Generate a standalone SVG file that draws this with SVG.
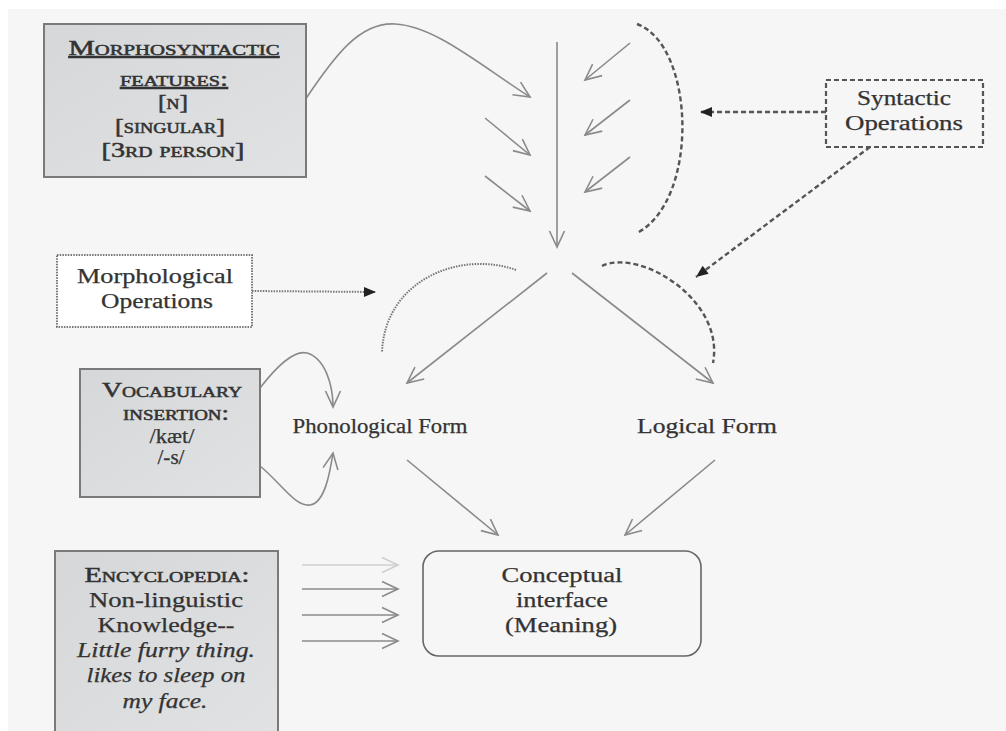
<svg xmlns="http://www.w3.org/2000/svg" width="1006" height="731" viewBox="0 0 1006 731">
<defs>
<style>
text{font-family:"Liberation Serif","DejaVu Serif",serif;fill:#333;text-anchor:middle;font-size:20px;stroke:#333;stroke-width:0.25}
.sc{font-variant:small-caps;font-size:20px;stroke-width:0.5}
.it{font-style:italic}
.ul{text-decoration:underline}
.box{fill:url(#g);stroke:#7a7a7a;stroke-width:2}
.ln{fill:none;stroke:#8a8a8a;stroke-width:1.6}
.dash{fill:none;stroke:#555;stroke-width:2.4;stroke-dasharray:5 3}
.dot{fill:none;stroke:#777;stroke-width:2;stroke-dasharray:1.5 1.2}
</style>
<linearGradient id="g" x1="0" y1="0" x2="1" y2="1">
<stop offset="0" stop-color="#d6d7d9"/>
<stop offset="1" stop-color="#e1e2e4"/>
</linearGradient>
<marker id="open" markerUnits="userSpaceOnUse" markerWidth="22" markerHeight="22" viewBox="0 0 22 22" refX="19" refY="11" orient="auto">
<path d="M3,3.5 L19,11 L3,18.5" fill="none" stroke="#8a8a8a" stroke-width="1.6"/>
</marker>
<marker id="openl" markerUnits="userSpaceOnUse" markerWidth="22" markerHeight="22" viewBox="0 0 22 22" refX="19" refY="11" orient="auto">
<path d="M3,3.5 L19,11 L3,18.5" fill="none" stroke="#cfcfcf" stroke-width="1.6"/>
</marker>
<marker id="fill" markerUnits="userSpaceOnUse" markerWidth="16" markerHeight="16" viewBox="0 0 16 16" refX="14" refY="8" orient="auto">
<path d="M2,3 L14,8 L2,13 Z" fill="#222"/>
</marker>
</defs>
<rect x="0" y="0" width="1006" height="731" fill="#ffffff"/>
<rect x="8" y="9" width="998" height="722" fill="#f6f6f6"/>

<g id="connectors">
<path class="ln" d="M305,100 C335,55 360,22 395,24 C435,26 480,65 530,97" marker-end="url(#open)"/>
<line class="ln" x1="557" y1="42" x2="557" y2="247" marker-end="url(#open)"/>
<line class="ln" x1="485" y1="118" x2="530" y2="155" marker-end="url(#open)"/>
<line class="ln" x1="485" y1="176" x2="530" y2="211" marker-end="url(#open)"/>
<line class="ln" x1="630" y1="43" x2="585" y2="80" marker-end="url(#open)"/>
<line class="ln" x1="630" y1="100" x2="585" y2="135" marker-end="url(#open)"/>
<line class="ln" x1="630" y1="157" x2="585" y2="192" marker-end="url(#open)"/>
<path class="dash" d="M637,24 C695,45 700,200 637,233"/>
<line class="dash" x1="826" y1="112" x2="700" y2="112" marker-end="url(#fill)"/>
<line class="dash" x1="870" y1="147" x2="696" y2="277" marker-end="url(#fill)"/>
<line class="dot" x1="252" y1="291" x2="376" y2="292" marker-end="url(#fill)"/>
<path class="dot" d="M516,270 C460,250 385,280 382,352"/>
<path class="dash" d="M602,266 C640,248 725,300 713,363"/>
<line class="ln" x1="547" y1="273" x2="407" y2="383" marker-end="url(#open)"/>
<line class="ln" x1="572" y1="273" x2="713" y2="383" marker-end="url(#open)"/>
<path class="ln" d="M260,388 C280,362 295,350 307,353 C325,358 333,385 333,407" marker-end="url(#open)"/>
<path class="ln" d="M260,466 C280,482 295,507 310,505 C325,503 330,472 333,453" marker-end="url(#open)"/>
<line class="ln" x1="407" y1="460" x2="498" y2="535" marker-end="url(#open)"/>
<line class="ln" x1="715" y1="460" x2="625" y2="535" marker-end="url(#open)"/>
<line class="ln" style="stroke:#cfcfcf" x1="302" y1="565" x2="398" y2="565" marker-end="url(#openl)"/>
<line class="ln" x1="302" y1="589" x2="398" y2="589" marker-end="url(#open)"/>
<line class="ln" x1="302" y1="615" x2="398" y2="615" marker-end="url(#open)"/>
<line class="ln" x1="302" y1="641" x2="398" y2="641" marker-end="url(#open)"/>
</g>

<g id="morphosyntactic">
<rect class="box" x="44" y="24" width="262" height="153"/>
<text class="sc ul" x="174" y="55" textLength="211" lengthAdjust="spacingAndGlyphs">Morphosyntactic</text>
<text class="sc ul" x="174" y="86" textLength="108" lengthAdjust="spacingAndGlyphs">features:</text>
<text class="sc" x="173" y="109" textLength="30" lengthAdjust="spacingAndGlyphs">[n]</text>
<text class="sc" x="170" y="133" textLength="110" lengthAdjust="spacingAndGlyphs">[singular]</text>
<text class="sc" x="173" y="157" textLength="143" lengthAdjust="spacingAndGlyphs">[3rd person]</text>
</g>

<g id="syntactic">
<rect x="826" y="80" width="157" height="67" fill="#f6f6f6" stroke="#555" stroke-width="2.2" stroke-dasharray="5 3"/>
<text x="904" y="105" textLength="94" lengthAdjust="spacingAndGlyphs">Syntactic</text>
<text x="904" y="130" textLength="118" lengthAdjust="spacingAndGlyphs">Operations</text>
</g>

<g id="morphological">
<rect x="57" y="255" width="195" height="72" fill="#ffffff" stroke="#777" stroke-width="2" stroke-dasharray="1.5 1.2"/>
<text x="155" y="283" textLength="156" lengthAdjust="spacingAndGlyphs">Morphological</text>
<text x="157" y="308" textLength="112" lengthAdjust="spacingAndGlyphs">Operations</text>
</g>

<g id="vocabulary">
<rect class="box" x="80" y="369" width="180" height="128"/>
<text class="sc" x="172" y="397" textLength="140" lengthAdjust="spacingAndGlyphs">Vocabulary</text>
<text class="sc" x="176" y="420" textLength="106" lengthAdjust="spacingAndGlyphs">insertion:</text>
<text x="172" y="443" textLength="45" lengthAdjust="spacingAndGlyphs">/kæt/</text>
<text x="171" y="464" font-size="16" textLength="27" lengthAdjust="spacingAndGlyphs">/-s/</text>
</g>

<g id="phonological">
<text x="380" y="433" textLength="175" lengthAdjust="spacingAndGlyphs">Phonological Form</text>
</g>

<g id="logical">
<text x="707" y="433" textLength="140" lengthAdjust="spacingAndGlyphs">Logical Form</text>
</g>

<g id="conceptual">
<rect x="423" y="551" width="278" height="105" rx="16" ry="16" fill="#f6f6f6" stroke="#666" stroke-width="1.6"/>
<text x="562" y="582" textLength="121" lengthAdjust="spacingAndGlyphs">Conceptual</text>
<text x="562" y="607" textLength="92" lengthAdjust="spacingAndGlyphs">interface</text>
<text x="561" y="632" textLength="112" lengthAdjust="spacingAndGlyphs">(Meaning)</text>
</g>

<g id="encyclopedia">
<rect class="box" x="55" y="551" width="223" height="190"/>
<text class="sc" x="167" y="582" textLength="165" lengthAdjust="spacingAndGlyphs">Encyclopedia:</text>
<text x="166" y="607" textLength="154" lengthAdjust="spacingAndGlyphs">Non-linguistic</text>
<text x="166" y="632" textLength="137" lengthAdjust="spacingAndGlyphs">Knowledge--</text>
<text class="it" x="166" y="657" textLength="178" lengthAdjust="spacingAndGlyphs">Little furry thing.</text>
<text class="it" x="166" y="682" textLength="159" lengthAdjust="spacingAndGlyphs">likes to sleep on</text>
<text class="it" x="165" y="708" textLength="85" lengthAdjust="spacingAndGlyphs">my face.</text>
</g>
</svg>
